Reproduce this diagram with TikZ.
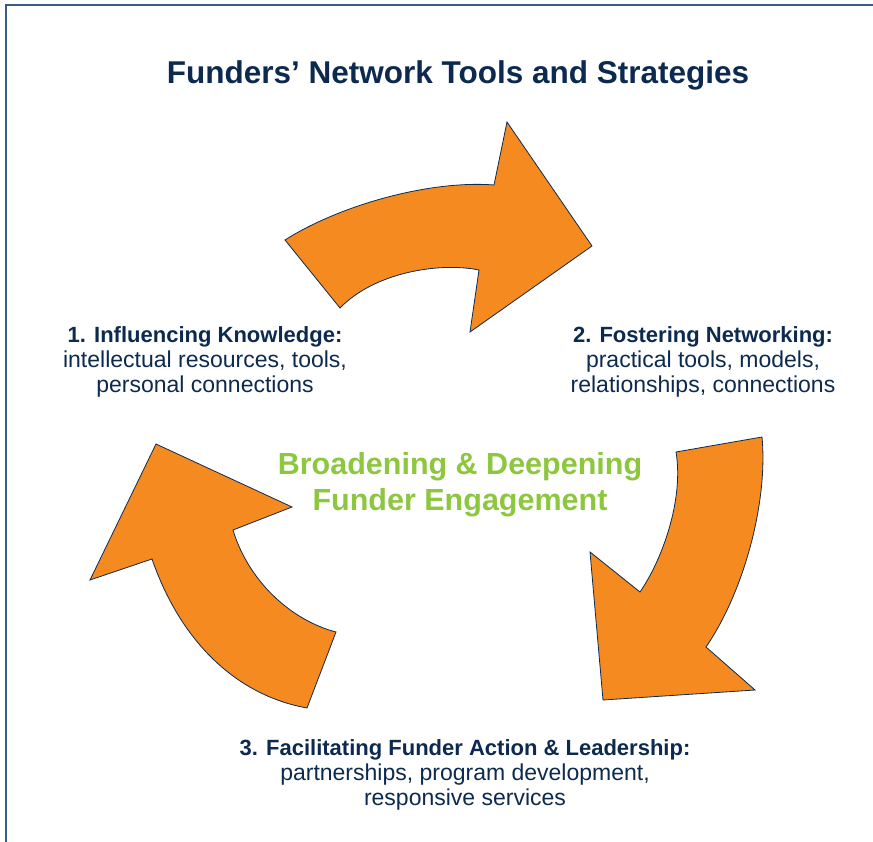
\documentclass[tikz,border=0pt]{standalone}
\usepackage{fontspec}
\setmainfont{Liberation Sans}
\usepackage{tikz}

\definecolor{navy}{HTML}{0C2A50}
\definecolor{framecol}{HTML}{3B5B82}
\definecolor{cycleorange}{HTML}{F48A20}
\definecolor{leafgreen}{HTML}{8DC63F}

\tikzset{
  cyclearrow/.style={fill=cycleorange, draw=navy, line width=0.8pt, line join=miter},
  stagelabel/.style={align=center, text=navy, inner sep=0pt,
    font=\fontsize{23}{25}\selectfont},
}

\begin{document}
\begin{tikzpicture}[x=1pt,y=-1pt]

  \useasboundingbox (0,0) rectangle (873,842);
  % frame (only left and top edges show)
  \draw[framecol, line width=2pt] (5.5,842) -- (5.5,5.5) -- (873,5.5);

  % Title
  \node[text=navy, inner sep=0pt, font=\fontsize{31.5}{36}\selectfont\bfseries]
    (title) at (458,75) {Funders’ Network Tools and Strategies};

  % Top arrow
  \draw[cyclearrow] (285,240) .. controls (340,205) and (430,180) .. (494,185)
    -- (507,122) -- (592,246) -- (470,332) -- (479,270)
    .. controls (440,262) and (375,272) .. (340,308) -- cycle;
  % Right arrow
  \draw[cyclearrow] (676,452) -- (762,437)
    .. controls (768,500) and (745,590) .. (706,647)
    -- (755,690) -- (603,700) -- (590,552) -- (640,592)
    .. controls (662,560) and (684,500) .. cycle;
  % Left arrow
  \draw[cyclearrow] (156,444) -- (292,507) -- (233,530)
    .. controls (248,580) and (290,620) .. (336,632)
    -- (307,708) .. controls (235,695) and (180,640) .. (152,559)
    -- (90,580) -- cycle;

  % Stage labels
  \node[stagelabel] (knowledge) at (205,362)
    {{\fontsize{22}{25}\selectfont\bfseries 1. Influencing Knowledge:}\\
     intellectual resources, tools,\\ personal connections};
  \node[stagelabel] (networking) at (703,362)
    {{\fontsize{22}{25}\selectfont\bfseries 2. Fostering Networking:}\\
     practical tools, models,\\ relationships, connections};
  \node[stagelabel] (action) at (465,775)
    {{\fontsize{22}{25}\selectfont\bfseries 3. Facilitating Funder Action \& Leadership:}\\
     partnerships, program development,\\ responsive services};

  % Center
  \node[align=center, text=leafgreen, inner sep=0pt,
    font=\fontsize{30.5}{36}\selectfont\bfseries]
    (engagement) at (460,485) {Broadening \& Deepening\\ Funder Engagement};

\end{tikzpicture}
\end{document}
